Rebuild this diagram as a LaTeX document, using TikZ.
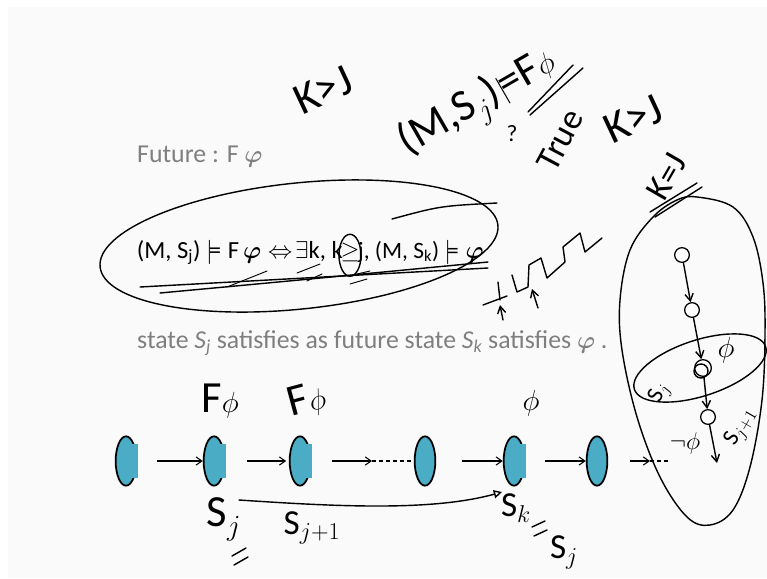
\documentclass[tikz,border=0pt]{standalone}
\usepackage{amsmath}
\usepackage{amssymb}
\usepackage{fontspec}
\setmainfont{Carlito}
\usetikzlibrary{positioning, arrows.meta, shapes.geometric, calc}
\definecolor{slidegray}{RGB}{127,127,127}
\definecolor{aquafill}{RGB}{75,172,198}
\definecolor{slidebg}{RGB}{250,250,250}
\tikzset{
    slidetext/.style={anchor=base west, inner sep=0pt, text=slidegray, font=\fontsize{22}{26}\selectfont},
    formula/.style={inner sep=0pt, text=black, font=\fontsize{21}{26}\selectfont},
    ink/.style={draw=black, line width=1.2pt, line cap=round, line join=round},
    inkarr/.style={ink, -{Straight Barb[length=6pt, width=7pt]}},
    handtext/.style={font=\fontsize{30}{32}\selectfont, inner sep=0pt, text=black},
    bighand/.style={font=\fontsize{38}{40}\selectfont, inner sep=0pt, text=black},
    smallhand/.style={font=\fontsize{20}{22}\selectfont, inner sep=0pt, text=black},
    statenode/.style={ellipse, draw=black, line width=1.5pt, fill=aquafill, minimum width=0.62cm, minimum height=1.48cm, inner sep=0pt},
    dotnode/.style={circle, draw=black, line width=1.1pt, fill=white, minimum size=0.44cm, inner sep=0pt},
    chainarr/.style={-{Straight Barb[length=5pt, width=7pt]}, line width=0.9pt},
    tailline/.style={dashed, line width=0.9pt}
}
\begin{document}
\begin{tikzpicture}[x=0.03cm, y=-0.03cm]
    \useasboundingbox (0,0) rectangle (767,578);
    % Slide background
    \fill[white] (0,0) rectangle (767,578);
    \fill[slidebg] (8,7) rectangle (767,578);

    % Slide text
    \node[slidetext] (title) at (137,162) {Future : F $\boldsymbol{\varphi}$};
    \node[formula, anchor=base] (geq) at (350,258) {$\geq$};
    \node[formula, anchor=base east] (defl) at (343,258) {(M, S\textsubscript{j}) $\models\mathrm{F}\,\boldsymbol{\varphi}$\;$\Leftrightarrow\!\exists$k, k};
    \node[formula, anchor=base west, font=\fontsize{20}{26}\selectfont] (defr) at (358,258) {j, (M, S\textsubscript{k}) $\models\boldsymbol{\varphi}$};
    \node[slidetext] (desc) at (137,348) {state \textit{S\textsubscript{j}} satisfies as future state \textit{S\textsubscript{k}} satisfies $\boldsymbol{\varphi}$ .};

    % Loops and strokes round the definition
    \draw[ink, rotate around={6:(299,246)}] (299,246) ellipse [x radius=200, y radius=63];
    \draw[ink] (392,219) .. controls (440,206) .. (497,203);
    \draw[ink] ([yshift=-0.1cm]geq.center) ellipse [x radius=11, y radius=21];
    \draw[ink] (140,287) -- (488,268);
    \draw[ink] (160,293) .. controls (300,280) .. (488,262);
    \foreach \xa/\ya/\xb/\yb in {227/287/267/271, 297/273/320/264, 307/281/322/274, 350/284/367/279, 357/274/370/271}
        \draw[ink, line width=0.8pt] (\xa,\ya) -- (\xb,\yb);

    % Zigzag and pointers
    \draw[ink] (483,305) -- (507,296);
    \draw[ink] (498,282) -- (500,300);
    \draw[ink] (512,275) -- (517,292) -- (528,287) -- (529,265) -- (541,258) -- (547,278) -- (565,262) -- (563,247) -- (580,233) -- (585,252) -- (602,238);
    \draw[inkarr] (503,320) -- (500,305);
    \draw[inkarr] (538,308) -- (532,289);

    % Notes at the top
    \node[bighand, rotate=25] (kgj) at (323,90) {K>J};
    \node[bighand, rotate=30] (claim) at (478,104) {(M,S$_j$)$\models$F$\phi$};
    \node[smallhand] (qmark) at (512,134) {?};
    \draw[ink] (528,112) -- (573,65);
    \draw[ink] (530,115) -- (583,68);
    \node[handtext, rotate=62] (truelbl) at (560,140) {True};
    \node[bighand, rotate=25] (kgj2) at (633,119) {K>J};

    % Chain of states
    \foreach \name/\x in {s1/126, s2/214, s3/300, s4/425, s5/514, s6/597}
        \node[statenode] (\name) at (\x,461) {};
    \foreach \name in {s1, s2, s3, s5}
        \fill[aquafill] (\name.center) ++(0,-17) rectangle ++(12,34);
    \coordinate (gap34) at (372,461);
    \coordinate (gap6) at (650,461);
    \coordinate (tail6) at (671,461);
    \draw[chainarr, shorten <=0.6cm] (s1) -- (s2);
    \draw[chainarr, shorten <=0.65cm, shorten >=0.08cm] (s2) -- (s3);
    \draw[chainarr, shorten <=0.62cm] (s3) -- (gap34);
    \draw[tailline] (gap34) -- (s4);
    \draw[chainarr, shorten <=0.78cm] (s4) -- (s5);
    \draw[chainarr, shorten <=0.6cm] (s5) -- (s6);
    \draw[chainarr, shorten <=0.66cm] (s6) -- (gap6);
    \draw[tailline] (gap6) -- (tail6);

    % Labels on the chain
    \node[bighand] (fphi2) at (220,401) {F$\phi$};
    \node[bighand, rotate=15] (fphi3) at (307,401) {F$\phi$};
    \node[bighand] (phi5) at (531,403) {$\phi$};
    \node[bighand] (sj) at (224,519) {S$_j$};
    \draw[ink] (232,556) -- (246,548);
    \draw[ink] (234,565) -- (248,557);
    \node[handtext] (sj1) at (312,528) {S$_{j+1}$};
    \node[handtext] (sk) at (516,508) {S$_k$};
    \draw[ink] (532,527) -- (545,521);
    \draw[ink] (534,536) -- (547,530);
    \node[handtext] (sjb) at (564,552) {S$_j$};
    \coordinate (jumpa) at (239,500);
    \coordinate (jumpb) at (502,492);
    \draw[ink, -{Triangle[open, length=7pt, width=7pt]}] (jumpa) .. controls (330,506) and (430,512) .. (jumpb);

    % Egg on the right
    \draw[ink] plot[smooth cycle, tension=0.6] coordinates {(697,197) (733,207) (753,237) (763,283) (765,333) (762,400) (750,467) (733,510) (710,525) (687,517) (660,477) (637,417) (622,350) (620,300) (630,250) (653,217) (677,200)};
    \node[handtext, rotate=60] (keqj) at (667,177) {K=J};
    \draw[ink] (650,212) -- (697,183);
    \draw[ink] (655,217) -- (702,187);
    \draw[ink, rotate around={18:(700,368)}] (700,368) ellipse [x radius=69, y radius=28];
    \node[dotnode] (c1) at (682,255) {};
    \node[dotnode] (c2) at (692,310) {};
    \node[dotnode, minimum size=0.5cm] (c3) at (703,368) {};
    \draw[ink] (701,371) circle [radius=7];
    \node[dotnode] (c4) at (708,417) {};
    \coordinate (c4end) at (717,463);
    \draw[inkarr] (c1) -- (c2);
    \draw[inkarr] (c2) -- (c3);
    \draw[inkarr] (c3) -- (c4);
    \draw[inkarr] (c4) -- (c4end);
    \node[handtext] (phiin) at (726,350) {$\phi$};
    \node[smallhand, rotate=65] (sjin) at (660,393) {S$_j$};
    \node[smallhand, rotate=60] (sjnext) at (741,427) {S$_{j+1}$};
    \node[smallhand] (notphi) at (685,443) {$\neg\phi$};
\end{tikzpicture}
\end{document}
